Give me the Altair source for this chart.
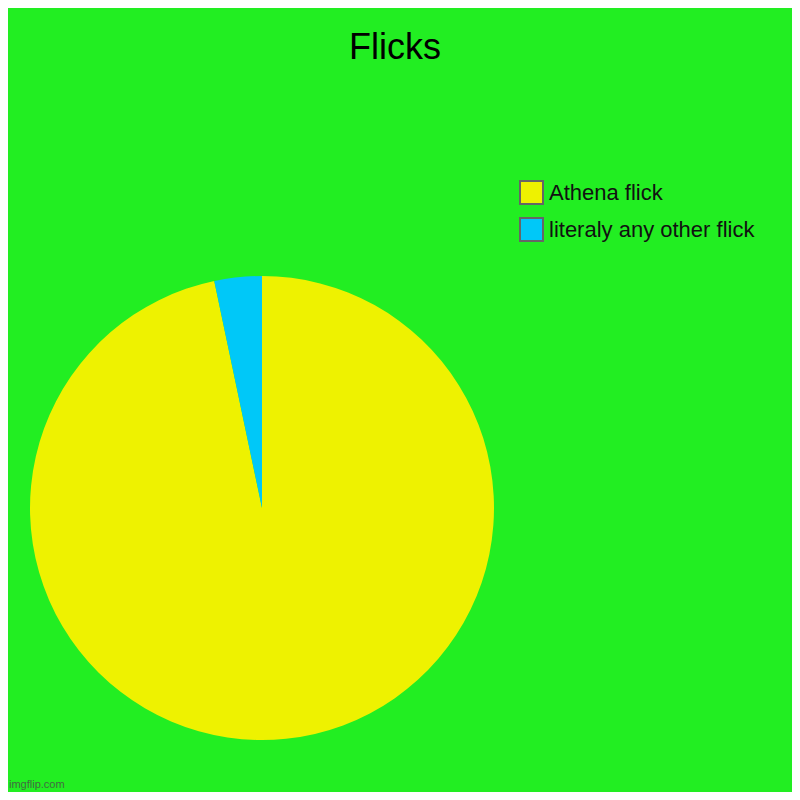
import altair as alt
import pandas as pd

categories = ["Athena flick", "literaly any other flick"]
values = [96.7, 3.3]
colors = ["#EEF200", "#00C8F8"]
title_text = "Flicks"
watermark = "imgflip.com"

df = pd.DataFrame({"label": categories, "value": values, "idx": list(range(len(categories)))})

BG = "#22EE22"

pie = alt.Chart(df).mark_arc(radius=232, stroke=None).encode(
    theta=alt.Theta("value:Q", stack=True),
    order=alt.Order("idx:Q"),
    color=alt.Color(
        "label:N",
        scale=alt.Scale(domain=categories, range=colors),
        sort=categories,
        legend=alt.Legend(
            title=None,
            orient="none",
            legendX=511,
            legendY=172,
            symbolType="square",
            symbolSize=529,
            symbolStrokeColor="#666666",
            symbolStrokeWidth=2,
            symbolOpacity=1,
            labelFontSize=22,
            labelFont="Liberation Sans",
            labelColor="#111111",
            labelOffset=5,
            rowPadding=6,
            labelLimit=400,
        ),
    ),
    x=alt.value(254),
    y=alt.value(500),
)

title_df = pd.DataFrame({"t": [title_text]})
title = alt.Chart(title_df).mark_text(
    font="Liberation Sans", fontSize=36, color="#000000", align="center", baseline="alphabetic"
).encode(text="t:N", x=alt.value(387), y=alt.value(51))

wm_df = pd.DataFrame({"t": [watermark]})
wm = alt.Chart(wm_df).mark_text(
    font="Liberation Sans", fontSize=11, color="#4a4a4a", align="left", baseline="alphabetic", opacity=0.8
).encode(text="t:N", x=alt.value(1), y=alt.value(780))

chart = alt.layer(pie, title, wm).properties(
    width=784, height=784, background=BG, padding=0,
    autosize=alt.AutoSizeParams(type="none"),
).configure_view(stroke=None)

chart.save("out.html", embed_options={"renderer": "svg", "actions": False})
